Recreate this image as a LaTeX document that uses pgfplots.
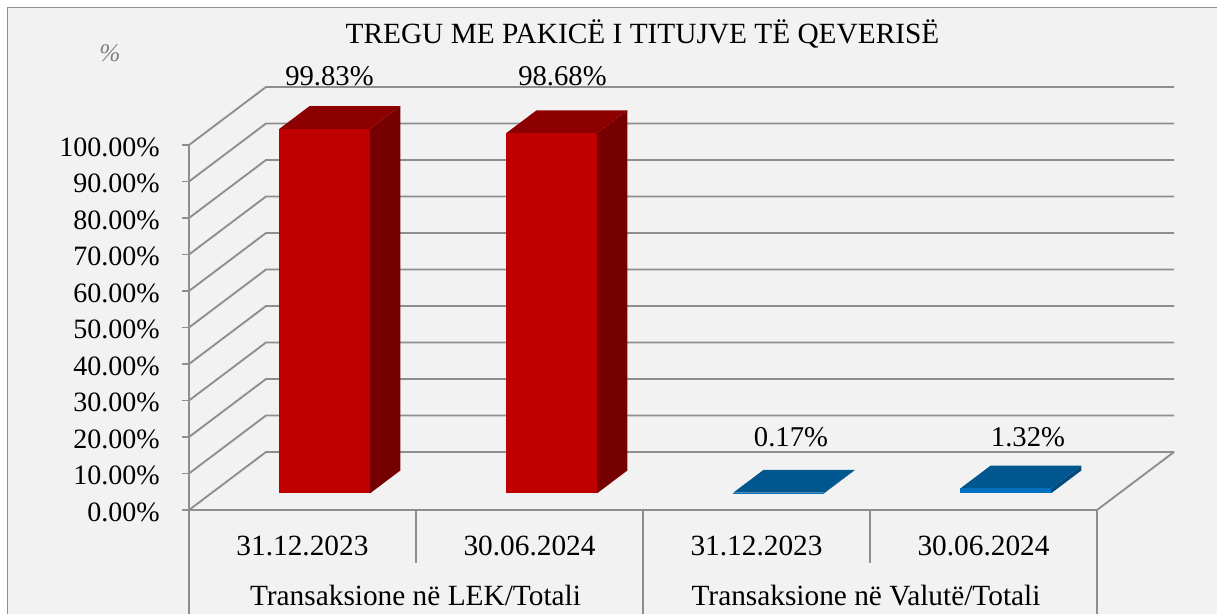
\documentclass[border=0pt]{standalone}
\usepackage{fontspec}
\setmainfont{Liberation Serif}
\usepackage{pgfplots}
\pgfplotsset{compat=1.18}
\definecolor{bg}{HTML}{F2F2F2}
\definecolor{gridc}{HTML}{8E8E8E}
\definecolor{redF}{HTML}{C00000}
\definecolor{redT}{HTML}{8C0000}
\definecolor{redS}{HTML}{760000}
\definecolor{bluF}{HTML}{0070C0}
\definecolor{bluT}{HTML}{00568F}
\definecolor{bluS}{HTML}{004A7C}
\definecolor{pctc}{HTML}{808080}

% #1 x0, #2 x1, #3 value, #4 front, #5 top, #6 side
\newcommand{\drawbar}[6]{%
  \addplot3[fill=#6,draw=none] coordinates {(#2,0.29,0) (#2,0.68,0) (#2,0.68,#3) (#2,0.29,#3)};
  \addplot3[fill=#5,draw=none] coordinates {(#1,0.29,#3) (#2,0.29,#3) (#2,0.68,#3) (#1,0.68,#3)};
  \addplot3[fill=#4,draw=none] coordinates {(#1,0.29,0) (#2,0.29,0) (#2,0.29,#3) (#1,0.29,#3)};
}

\begin{document}
\begin{tikzpicture}
\path[use as bounding box] (-141.75pt,-78pt) rectangle (771pt,382.5pt);
\fill[white] (-141.75pt,-78pt) rectangle (771pt,382.5pt);
\fill[bg] (-136.125pt,-78pt) rectangle (771pt,376.875pt);
\draw[gridc,line width=1.4pt] (-136.125pt,-78pt) -- (-136.125pt,376.875pt) -- (771pt,376.875pt);

\begin{axis}[
  at={(0pt,0pt)}, anchor=origin,
  x={(170.25pt,0pt)}, y={(57.75pt,43.5pt)}, z={(0pt,2.7375pt)},
  xmin=0, xmax=4, ymin=0, ymax=1, zmin=0, zmax=100,
  hide axis, clip=false,
  every axis plot/.append style={mark=none},
]
% grid: left wall and back wall
\pgfplotsinvokeforeach{0,10,20,30,40,50,60,70,80,90,100}{
  \addplot3[gridc,line width=1.4pt] coordinates {(0,0,#1) (0,1,#1) (4,1,#1)};
}
% floor
\addplot3[gridc,line width=1.4pt] coordinates {(0,0,0) (4,0,0) (4,1,0)};
% front vertical axis
\addplot3[gridc,line width=1.4pt] coordinates {(0,0,0) (0,0,100)};
% tick marks
\pgfplotsinvokeforeach{0,10,20,30,40,50,60,70,80,90,100}{
  \addplot3[gridc,line width=1.4pt] coordinates {(-0.031,0,#1) (0,0,#1)};
}
% category dividers
\addplot3[gridc,line width=1.4pt] coordinates {(0,0,0) (0,0,-28.5)};
\addplot3[gridc,line width=1.4pt] coordinates {(1,0,0) (1,0,-14.5)};
\addplot3[gridc,line width=1.4pt] coordinates {(2,0,0) (2,0,-28.5)};
\addplot3[gridc,line width=1.4pt] coordinates {(3,0,0) (3,0,-14.5)};
\addplot3[gridc,line width=1.4pt] coordinates {(4,0,0) (4,0,-28.5)};

% bars
\drawbar{0.3}{0.7}{99.83}{redF}{redT}{redS}
\drawbar{1.3}{1.7}{98.68}{redF}{redT}{redS}
\drawbar{2.3}{2.7}{0.17}{bluF}{bluT}{bluS}
\drawbar{3.3}{3.7}{1.32}{bluF}{bluT}{bluS}
\end{axis}

\begin{scope}[x=0.75pt,y=-0.75pt,shift={(-189,-510)},
  every node/.style={inner sep=0pt,font=\fontsize{22}{26}\selectfont}]
\node[anchor=base] at (642.5,44) {TREGU ME PAKICË I TITUJVE TË QEVERISË};
\node[anchor=base,text=pctc,font=\fontsize{19}{22}\selectfont\itshape] at (110,62) {\%};
% y tick labels
\foreach \v/\t in {0/0.00,10/10.00,20/20.00,30/30.00,40/40.00,50/50.00,60/60.00,70/70.00,80/80.00,90/90.00,100/100.00}{
  \node[anchor=base east,font=\fontsize{21}{25}\selectfont] at (160,{510-3.65*\v+11.5}) {\t\%};
}
% data labels
\begin{scope}[every node/.append style={font=\fontsize{21.5}{25}\selectfont}]
\node[anchor=base] at (329.5,86) {99.83\%};
\node[anchor=base] at (562.5,86) {98.68\%};
\node[anchor=base] at (791,447) {0.17\%};
\node[anchor=base] at (1028,447) {1.32\%};
\end{scope}
% category labels
\node[anchor=base] at (302.5,555) {31.12.2023};
\node[anchor=base] at (529.5,555) {30.06.2024};
\node[anchor=base] at (756.5,555) {31.12.2023};
\node[anchor=base] at (983.5,555) {30.06.2024};
\node[anchor=base] at (415.5,605) {Transaksione në LEK/Totali};
\node[anchor=base] at (866,605) {Transaksione në Valutë/Totali};
\end{scope}
\end{tikzpicture}
\end{document}
